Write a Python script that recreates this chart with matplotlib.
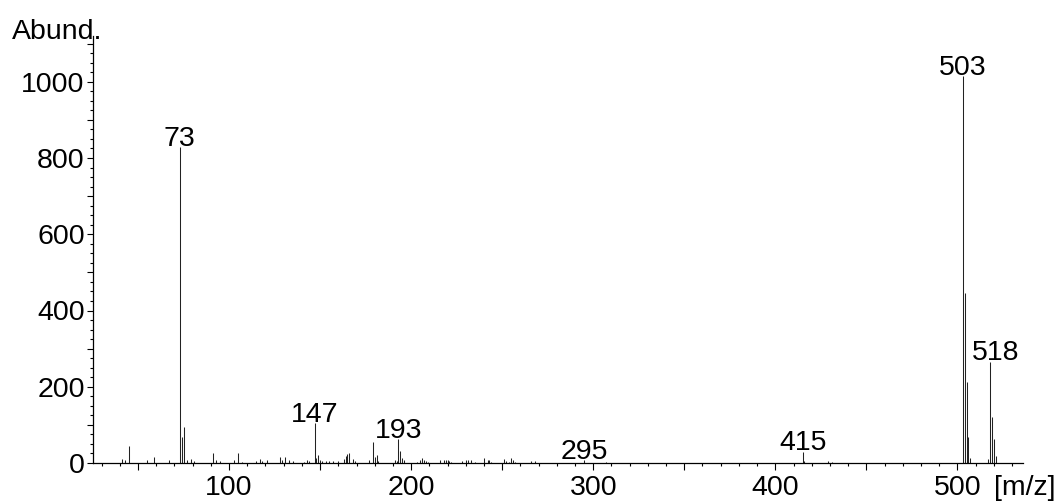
import matplotlib
matplotlib.use("Agg")
import matplotlib.pyplot as plt
from matplotlib.ticker import MultipleLocator, FuncFormatter

plt.rcParams['font.family'] = ['Liberation Sans', 'DejaVu Sans']

# m/z values and abundances
mz = [41, 43, 45, 55, 59, 67, 73, 74, 75, 77, 79, 81, 91, 93, 95, 103, 105, 107,
      115, 117, 118, 121, 128, 129, 131, 133, 135, 141, 143, 144, 147, 148, 149,
      150, 151, 153, 155, 157, 160, 163, 164, 165, 166, 168, 169, 177, 179, 180,
      181, 182, 191, 192, 193, 194, 195, 196, 203, 205, 206, 207, 208, 209, 216,
      218, 219, 220, 221, 222, 228, 230, 231, 233, 235, 240, 242, 243, 244, 251,
      252, 254, 255, 256, 257, 266, 268, 295, 307, 415, 416, 429, 431, 503, 504,
      505, 506, 507, 517, 518, 519, 520, 521]
abund = [10, 7, 45, 7, 15, 9, 828, 67, 94, 8, 10, 5, 25, 9, 4, 8, 25, 3,
         5, 11, 5, 7, 15, 7, 15, 7, 4, 3, 9, 4, 105, 13, 20,
         7, 5, 5, 5, 5, 4, 11, 19, 23, 25, 10, 4, 9, 54, 17,
         21, 5, 9, 6, 62, 31, 13, 7, 3, 9, 13, 9, 5, 3, 7,
         7, 9, 7, 6, 3, 5, 7, 7, 8, 3, 13, 9, 8, 3, 10,
         6, 3, 13, 9, 3, 4, 4, 8, 3, 30, 6, 4, 3, 1015, 447,
         213, 69, 12, 10, 266, 121, 62, 18]
labeled = [73, 147, 193, 295, 415, 503, 518]

FS = 20.5

fig = plt.figure(figsize=(10.58, 5.01), dpi=100)
ax = fig.add_axes([93/1058, 38/501, 930/1058, 427/501])

ax.vlines(mz, 0, abund, colors='#222222', linewidth=0.75)

label_dx = {518: 4}
for m in labeled:
    h = abund[mz.index(m)]
    ax.annotate(str(m), xy=(m, h), xytext=(label_dx.get(m, 0), 1),
                textcoords='offset points', ha='center', va='baseline',
                fontsize=FS)

ax.set_xlim(25.3, 536)
ax.set_ylim(0, 1120)

for s in ['top', 'right']:
    ax.spines[s].set_visible(False)
for s in ['left', 'bottom']:
    ax.spines[s].set_linewidth(0.9)

ax.xaxis.set_major_locator(MultipleLocator(50))
ax.xaxis.set_minor_locator(MultipleLocator(10))
ax.yaxis.set_major_locator(MultipleLocator(100))
ax.yaxis.set_minor_locator(MultipleLocator(25))
ax.xaxis.set_major_formatter(FuncFormatter(lambda v, p: f'{int(round(v))}' if round(v) % 100 == 0 else ''))
ax.yaxis.set_major_formatter(FuncFormatter(lambda v, p: f'{int(round(v))}' if round(v) % 200 == 0 else ''))

ax.tick_params(axis='x', which='major', direction='out', length=5, width=0.8, pad=3.5, labelsize=FS)
ax.tick_params(axis='x', which='minor', direction='out', length=2.5, width=0.8)
ax.tick_params(axis='y', which='major', direction='out', length=4, width=0.8, pad=2, labelsize=FS)
ax.tick_params(axis='y', which='minor', direction='out', length=2, width=0.8)

fig.text(12/1058, (501-39)/501, 'Abund.', fontsize=FS, ha='left', va='baseline')
fig.text(994/1058, (501-495)/501, '[m/z]', fontsize=FS, ha='left', va='baseline')

fig.savefig('out.png', dpi=100)
